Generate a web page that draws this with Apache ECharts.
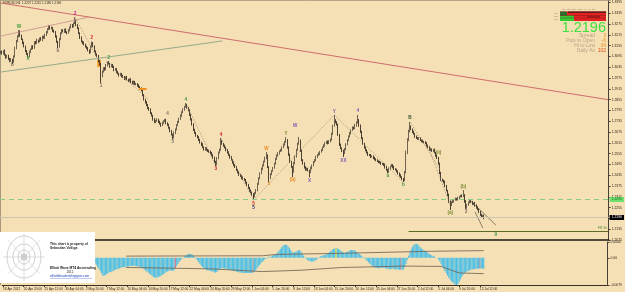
<!DOCTYPE html>
<html>
<head>
<meta charset="utf-8">
<script src="https://cdn.jsdelivr.net/npm/echarts@6/dist/echarts.min.js"></script>
<style>
html, body { margin: 0; padding: 0; background: #f5dfb4; }
#chart { width: 625px; height: 292px; }
</style>
</head>
<body>
<div id="chart"></div>
<script type="text/javascript">

// EURUSD H4, prices in pips (x 1e-4)
var firstOpen = 13115;
var closes = [
	13120,13112,13125,13103,13090,13098,13082,13070,13078,13064,
	13095,13140,13180,13205,13235,13210,13190,13170,13150,13125,
	13110,13095,13120,13135,13150,13142,13175,13168,13185,13178,
	13195,13188,13205,13198,13214,13230,13245,13262,13250,13255,
	13238,13231,13205,13175,13150,13190,13225,13240,13232,13245,
	13230,13225,13240,13255,13268,13262,13280,13295,13270,13250,
	13225,13200,13178,13170,13160,13150,13140,13130,13118,13150,
	13170,13150,13125,13105,13098,13070,13050,12985,13010,13030,
	13022,13045,13062,13055,13040,13048,13035,13020,13025,13008,
	13000,12990,12998,12985,12980,12972,12980,12965,12960,12968,
	12952,12945,12955,12940,12942,12935,12925,12915,12905,12880,
	12855,12840,12825,12810,12798,12780,12765,12745,12730,12738,
	12745,12730,12722,12712,12725,12735,12742,12725,12715,12698,
	12680,12660,12645,12670,12690,12712,12730,12750,12765,12785,
	12800,12815,12825,12810,12795,12772,12745,12715,12688,12670,
	12655,12645,12632,12615,12605,12590,12578,12585,12575,12570,
	12565,12558,12548,12530,12510,12495,12530,12560,12578,12625,
	12610,12598,12588,12575,12560,12548,12535,12520,12505,12492,
	12480,12465,12450,12438,12430,12420,12415,12408,12395,12380,
	12365,12350,12340,12330,12318,12335,12352,12385,12418,12445,
	12470,12490,12510,12530,12545,12480,12420,12440,12460,12475,
	12500,12525,12545,12555,12568,12575,12590,12605,12620,12630,
	12590,12548,12510,12480,12455,12500,12540,12575,12610,12628,
	12570,12520,12500,12480,12465,12470,12460,12452,12475,12490,
	12508,12520,12535,12548,12555,12565,12575,12590,12600,12614,
	12620,12612,12625,12632,12665,12710,12740,12730,12715,12660,
	12605,12585,12570,12558,12580,12605,12630,12650,12668,12685,
	12700,12695,12712,12728,12742,12710,12678,12640,12610,12588,
	12575,12560,12548,12545,12538,12540,12530,12525,12518,12512,
	12508,12505,12500,12498,12492,12480,12465,12452,12470,12485,
	12492,12480,12470,12465,12455,12445,12435,12425,12415,12408,
	12450,12560,12630,12680,12705,12690,12675,12665,12650,12642,
	12638,12640,12630,12625,12620,12618,12612,12600,12590,12575,
	12580,12570,12575,12560,12545,12530,12500,12450,12410,12405,
	12398,12375,12350,12325,12290,12270,12285,12290,12298,12305,
	12300,12308,12315,12320,12318,12325,12290,12255,12270,12285,
	12296,12285,12275,12280,12268,12255,12245,12232,12215,12205,
	12210,12196
];
// wick above the body / below the body, pips
var wickUp = [
	6,8,5,9,4,7,6,5,8,4, 6,9,7,8,7,5,6,4,7,5, 6,5,8,4,6,7,5,6,9,4, 5,7,6,5,8,6,7,8,5,6,
	4,6,5,7,6,8,5,7,6,4, 6,5,7,6,8,7,5,19,6,5, 7,4,6,5,8,6,5,7,4,6, 8,5,6,4,7,5,6,9,7,5,
	6,8,5,7,4,6,5,8,6,5, 7,4,6,5,8,6,4,7,5,6, 5,8,6,4,7,5,6,5,8,4, 6,5,7,6,4,8,5,6,7,5,
	6,4,8,5,7,6,5,7,4,6, 5,7,6,8,5,6,7,5,8,6, 7,5,11,6,4,7,5,6,8,5, 6,4,7,5,6,8,5,7,4,6,
	5,7,6,4,8,5,6,7,5,17, 6,5,7,4,6,8,5,6,4,7, 5,6,4,7,5,6,8,4,6,5, 7,5,6,4,5,7,6,8,5,6,
	7,5,6,8,19,6,5,7,4,6, 5,7,6,8,5,6,4,7,5,17, 6,5,7,4,6,8,5,7,6,20, 5,6,4,7,5,8,6,5,7,4,
	6,5,8,4,7,5,6,4,7,5, 6,8,5,7,6,5,30,6,5,7, 4,6,5,7,6,8,5,6,7,4, 6,5,8,6,28,5,7,4,6,5,
	7,4,6,5,8,6,5,7,4,6, 5,7,6,4,5,8,6,5,7,4, 6,5,8,4,6,7,5,6,4,5, 9,12,10,8,26,6,5,7,4,6,
	5,7,6,4,8,5,6,7,5,6, 7,4,6,8,5,6,7,5,4,6, 5,7,6,4,8,5,6,7,5,6, 4,7,5,6,8,28,5,7,6,4,
	6,5,7,4,6,5,8,6,4,6, 5,6
];
var wickDn = [
	5,7,6,4,8,5,6,7,5,12, 4,6,5,7,5,6,4,7,5,6, 7,8,5,6,4,7,5,6,4,7, 5,6,8,4,6,5,7,4,6,5,
	7,5,6,4,10,6,5,7,4,6, 5,7,4,6,5,8,6,5,7,4, 6,8,5,7,4,6,5,7,9,5, 6,4,7,5,6,8,5,38,6,5,
	7,4,6,5,8,6,4,7,5,6, 5,7,4,6,5,8,6,4,7,5, 6,5,7,4,6,8,5,7,4,6, 5,7,6,8,5,6,4,7,5,6,
	7,5,6,8,4,6,5,7,6,5, 6,4,10,5,7,6,4,5,8,6, 5,7,4,6,5,8,6,4,7,5, 6,5,7,4,8,5,6,7,4,6,
	5,6,8,4,7,8,5,6,4,7, 6,5,4,7,5,6,8,4,6,7, 5,6,4,7,5,8,6,4,7,5, 6,7,5,8,21,6,5,7,4,6,
	5,7,6,4,6,5,23,7,5,6, 4,6,5,7,6,4,8,5,6,5, 7,5,6,4,30,6,5,7,4,6, 5,7,6,8,5,6,4,28,5,7,
	6,4,7,5,6,8,5,6,4,7, 5,6,4,7,5,6,5,7,4,6, 8,5,6,22,5,7,4,6,5,7, 4,6,5,7,5,6,8,4,6,5,
	7,5,6,4,8,5,6,7,5,4, 6,5,7,4,6,8,5,7,4,6, 5,7,6,4,5,6,8,5,7,11, 6,5,8,6,7,5,6,4,7,5,
	6,8,5,7,4,6,5,7,6,4, 7,5,6,4,8,5,6,9,7,5, 8,6,5,7,9,28,6,5,7,4, 6,5,7,4,6,5,8,7,6,5,
	7,4,6,5,8,6,5,7,6,5, 6,5
];

// oscillator histogram (x 1e-4)
var osc = [
	8,10,9,7,5,3,2,0,-2,-3, -1,3,8,12,16,15,13,11,8,5, 2,0,1,3,5,6,8,9,10,11,
	12,12,13,14,15,17,19,21,21,20, 18,16,12,9,6,8,11,13,14,15, 15,16,18,20,22,24,25,24,21,17,
	12,7,2,-2,-6,-9,-12,-15,-18,-17, -14,-16,-20,-26,-32,-38,-45,-52,-53,-50,
	-47,-45,-42,-41,-40,-38,-36,-34,-33,-32, -30,-29,-28,-27,-27,-26,-25,-25,-24,-24,
	-23,-23,-24,-24,-25,-26,-27,-28,-30,-33, -37,-40,-43,-46,-49,-52,-55,-57,-58,-57,
	-55,-54,-52,-50,-47,-44,-41,-39,-38,-37, -37,-38,-36,-30,-24,-18,-12,-7,-3,0,
	3,6,9,11,12,11,9,6,2,-3, -8,-13,-18,-23,-27,-30,-33,-35,-36,-37,
	-38,-39,-40,-42,-43,-41,-37,-33,-31,-30, -30,-31,-32,-33,-34,-35,-36,-37,-38,-39,
	-40,-41,-42,-43,-43,-44,-44,-44,-44,-44, -44,-44,-44,-43,-40,-36,-31,-26,-21,-16,
	-12,-8,-5,-2,1,3,2,4,6,8, 10,12,16,21,26,31,35,37,38,37, 34,29,23,18,15,16,18,20,22,23,
	18,12,6,1,-3,-6,-9,-10,-11,-11, -10,-8,-5,-1,2,4,6,7,8,9, 11,14,17,20,23,26,28,29,28,26,
	23,20,17,15,15,16,18,20,22,23, 23,22,20,17,14,11,8,5,2,-1,
	-5,-9,-13,-17,-20,-23,-26,-28,-29,-30, -30,-30,-29,-29,-29,-30,-31,-32,-33,-33,
	-32,-32,-33,-33,-34,-34,-35,-35,-35,-34, -28,-18,-6,6,16,25,32,37,40,41,
	39,35,31,27,24,21,19,17,14,11, 9,7,5,3,1,0,-4,-10,-17,-24,
	-31,-38,-45,-52,-58,-63,-68,-72,-75,-78, -79,-76,-70,-63,-56,-50,-45,-42,-40,-38,
	-36,-35,-34,-33,-33,-32,-32,-31,-31,-31, -31,-32
];
var markedBars = [133, 193, 257, 307, 368];
var markedTones = ['pink', 'grey', 'lime', 'violet', 'steel'];
var upperBand = [[95,5],[200,6],[212,10],[260,13],[330,19],[371,21]];
var lowerBand = [[95,-28],[160,-32],[200,-40],[230,-36],[262,-28],[310,-24],[338,-25],[352,-44],[371,-46]];

var timeLabels = ['18 Apr 2012','20 Apr 20:00','25 Apr 12:00','30 Apr 04:00','2 May 20:00','7 May 12:00',
	'10 May 04:00','14 May 20:00','17 May 12:00','22 May 04:00','24 May 20:00','29 May 12:00',
	'1 Jun 04:00','5 Jun 20:00','8 Jun 12:00','13 Jun 04:00','15 Jun 20:00','20 Jun 12:00',
	'25 Jun 04:00','27 Jun 20:00','2 Jul 12:00','5 Jul 04:00','9 Jul 20:00','12 Jul 12:00'];

var bidPrice = 1.2196;
var supportPrice = 1.2290;
var fibLevel = [313, 466, 12125];

// wave counts: bar, price (pips), text, degree
var waveLabels = [
	[14,13258,'W','green'], [21,13080,'X','green'], [9,13050,'b','grey'], [44,13128,'b','grey'],
	[57,13330,'2','pink'], [70,13197,'2','red'], [77,12930,'1','grey'], [83,13085,'2','green'],
	[128,12775,'4','grey'], [132,12622,'5','grey'], [142,12852,'4','green'],
	[165,12470,'3','red'], [169,12658,'4','red'], [194,12278,'5','red'], [194,12252,'5','navy'],
	[204,12582,'W','orange'], [206,12385,'x','orange'], [219,12664,'Y','olive'], [224,12408,'(b)','orange'],
	[226,12712,'W','purple'], [237,12405,'X','purple'], [256,12790,'Y','purple'], [263,12515,'XX','purple'],
	[274,12792,'4','purple'], [297,12432,'a','green'], [309,12380,'b','green'], [314,12752,'B','dark'],
	[336,12560,'(ii)','olive'], [345,12224,'(a)','olive'], [355,12372,'(b)','olive'], [357,12232,'3','grey'],
	[380,12103,'9','green']
];
var trendLines = [
	[[0,13392],[466,12855],'red'],
	[[0,13208],[68,13314],'wedge'],
	[[0,13008],[170,13181],'sage'],
	[[360,12297],[380,12158],'diag'],
	[[364,12231],[370,12142],'diag'],
	[[106,12914],[112,12914],'orange']
];
var zigzag = [
	[[57,13314],[76,13060]], [[81,13064],[114,12853]], [[142,12836],[165,12492]],
	[[169,12642],[194,12297]], [[194,12297],[256,12770]], [[256,12770],[309,12397]],
	[[314,12731],[337,12470]], [[329,12575],[345,12269]]
];
var gapBox = [[74,13075],[77,13036]];

var SLOTS = 467;

var toneColor = {
	green: '#3d9a3d', grey: '#7d7266', pink: '#c0208c', red: '#d02424', navy: '#2a2a70',
	orange: '#e88a20', olive: '#7a8a30', purple: '#7a5ab8', dark: '#2d4d2d'
};
var barTone = { pink: '#d2709a', grey: '#8c98a8', lime: '#c8d830', violet: '#8c88b4', steel: '#7f95b8' };
var lineTone = {
	red: { color: '#cf6b6b', width: 1, type: 'solid' },
	wedge: { color: '#c99090', width: 0.8, type: 'solid' },
	sage: { color: '#95aa8c', width: 1, type: 'solid' },
	diag: { color: '#5a5043', width: 0.7, type: 'solid' },
	orange: { color: '#f0901e', width: 2, type: 'solid' },
	dots: { color: '#857a6a', width: 0.6, type: [1.5, 1.5] }
};

var cats = [];
for (var k = 0; k < SLOTS; k++) cats.push(String(k));

var candleData = [];
for (var i = 0; i < closes.length; i++) {
	var o = i === 0 ? firstOpen : closes[i - 1];
	var c = closes[i];
	candleData.push([o / 1e4, c / 1e4, (Math.min(o, c) - wickDn[i]) / 1e4, (Math.max(o, c) + wickUp[i]) / 1e4]);
}

var oscData = osc.map(function (v, j) {
	var m = markedBars.indexOf(j);
	if (m >= 0) return { value: v / 1e4, itemStyle: { color: barTone[markedTones[m]] } };
	return v / 1e4;
});

var lineItems = [];
trendLines.forEach(function (t) {
	lineItems.push([{ coord: [t[0][0], t[0][1] / 1e4], lineStyle: lineTone[t[2]] }, { coord: [t[1][0], t[1][1] / 1e4] }]);
});
zigzag.forEach(function (z) {
	lineItems.push([{ coord: [z[0][0], z[0][1] / 1e4], lineStyle: lineTone.dots }, { coord: [z[1][0], z[1][1] / 1e4] }]);
});
lineItems.push([{ coord: [fibLevel[0], fibLevel[2] / 1e4], lineStyle: { color: '#5d6b27', width: 1, type: 'solid' },
	label: { show: true, position: 'insideEndTop', formatter: 'FR 3x', color: '#4e8a28', fontSize: 3.4, distance: 1 } },
	{ coord: [fibLevel[1], fibLevel[2] / 1e4] }]);
lineItems.push({ yAxis: supportPrice, lineStyle: { color: '#86cc86', width: 1, type: [5, 4] },
	label: { show: true, position: 'end', formatter: supportPrice.toFixed(4), backgroundColor: '#6ee06e', color: '#1f5f1f', fontSize: 3.4, padding: [1, 2], distance: 1 } });
lineItems.push({ yAxis: bidPrice, lineStyle: { color: '#cdc3b0', width: 1, type: 'solid' },
	label: { show: true, position: 'end', formatter: bidPrice.toFixed(4), backgroundColor: '#000', color: '#fff', fontSize: 3.4, padding: [1, 2], distance: 1 } });

var pointItems = waveLabels.map(function (w) {
	return {
		coord: [w[0], w[1] / 1e4], symbol: 'circle', symbolSize: 1, itemStyle: { color: 'rgba(0,0,0,0)' },
		label: { show: true, position: 'inside', formatter: w[2], color: toneColor[w[3]], fontSize: 4.6, fontWeight: 'bold' }
	};
});

function showTime(idx) {
	return idx % 16 === 0 && idx / 16 < timeLabels.length;
}

var chart = echarts.init(document.getElementById('chart'));

var option = {
	animation: false,
	backgroundColor: '#f5dfb4',
	textStyle: { fontFamily: 'Liberation Sans, Arial, sans-serif' },
	grid: [
		{ left: 0, right: 14, top: 1, height: 239 },
		{ left: 0, right: 14, top: 242, height: 43 }
	],
	xAxis: [
		{
			type: 'category', gridIndex: 0, data: cats,
			axisLine: { show: true, onZero: false, lineStyle: { color: '#1e1a14', width: 1.6 } },
			axisTick: { show: false }, axisLabel: { show: false }, splitLine: { show: false }
		},
		{
			type: 'category', gridIndex: 1, data: cats,
			axisLine: { show: true, onZero: false, lineStyle: { color: '#3a3025', width: 1 } },
			axisTick: { show: true, length: 2, alignWithLabel: true, interval: showTime, lineStyle: { color: '#3a3025' } },
			axisLabel: {
				show: true, interval: showTime, align: 'left', fontSize: 3.2, color: '#2e261c', margin: 2.5,
				formatter: function (v, idx) { return timeLabels[idx / 16] || ''; }
			},
			splitLine: { show: false }
		}
	],
	yAxis: [
		{
			type: 'value', gridIndex: 0, position: 'right', min: 1.2075, max: 1.3403, interval: 0.006,
			axisLine: { show: true, lineStyle: { color: '#4a4035', width: 1 } },
			axisTick: { show: true, length: 2, lineStyle: { color: '#4a4035' } },
			axisLabel: { fontSize: 3.4, color: '#2e261c', margin: 3, showMaxLabel: false,
				formatter: function (v) { return v.toFixed(4); } },
			splitLine: { show: false }
		},
		{
			type: 'value', gridIndex: 1, position: 'right', min: -0.0079, max: 0.0046, interval: 0.0079,
			axisLine: { show: true, lineStyle: { color: '#4a4035', width: 1 } },
			axisTick: { show: true, length: 2, lineStyle: { color: '#4a4035' } },
			axisLabel: { fontSize: 3.4, color: '#2e261c', margin: 3, showMaxLabel: true, showMinLabel: true,
				formatter: function (v) { return Math.abs(v) < 1e-8 ? '0.00' : v.toFixed(4); } },
			splitLine: { show: false }
		}
	],
	series: [
		{
			type: 'candlestick', xAxisIndex: 0, yAxisIndex: 0, data: candleData, barWidth: 1.2,
			itemStyle: { color: '#e2dac8', color0: '#21180f', borderColor: '#4d4236', borderColor0: '#21180f', borderWidth: 0.8 },
			markLine: { silent: true, symbol: ['none', 'none'], label: { show: false }, data: lineItems },
			markPoint: { silent: true, data: pointItems },
			markArea: { silent: true, itemStyle: { color: '#f5a02e' },
				data: [[{ coord: [gapBox[0][0], gapBox[0][1] / 1e4] }, { coord: [gapBox[1][0], gapBox[1][1] / 1e4] }]] }
		},
		{
			type: 'bar', xAxisIndex: 1, yAxisIndex: 1, data: oscData, barCategoryGap: '15%',
			itemStyle: { color: '#48bfe8' }
		},
		{
			type: 'line', xAxisIndex: 1, yAxisIndex: 1, showSymbol: false, silent: true,
			data: upperBand.map(function (p) { return [p[0], p[1] / 1e4]; }),
			lineStyle: { color: '#6a5f50', width: 0.8 }
		},
		{
			type: 'line', xAxisIndex: 1, yAxisIndex: 1, showSymbol: false, silent: true,
			data: lowerBand.map(function (p) { return [p[0], p[1] / 1e4]; }),
			lineStyle: { color: '#6a5f50', width: 0.8 }
		}
	],
	graphic: [
		{ type: 'line', silent: true, shape: { x1: 0, y1: 0.5, x2: 611, y2: 0.5 }, style: { stroke: '#b5a584', lineWidth: 1 } },
		{ type: 'line', silent: true, shape: { x1: 0.5, y1: 0, x2: 0.5, y2: 285 }, style: { stroke: '#a8987a', lineWidth: 1 } },
		{ type: 'text', silent: true, x: 3, y: 3, style: { text: 'EURUSD,H4  1.2207 1.2210 1.2186 1.2196', fontSize: 3, fill: '#2e261c', verticalAlign: 'middle' } },

		// trend dashboard
		{ type: 'rect', silent: true, shape: { x: 560, y: 11.5, width: 46, height: 9.5 }, style: { fill: '#e52222' } },
		{ type: 'rect', silent: true, shape: { x: 560, y: 15.5, width: 14, height: 5.5 }, style: { fill: '#33cc33' } },
		{ type: 'rect', silent: true, shape: { x: 560, y: 11.5, width: 7, height: 4 }, style: { fill: '#2e6b2e' } },
		{ type: 'rect', silent: true, shape: { x: 568, y: 11.5, width: 38, height: 1.2 }, style: { fill: '#3a1a1a' } },
		{ type: 'rect', silent: true, shape: { x: 587, y: 15.8, width: 13, height: 2 }, style: { fill: '#a51a1a' } },
		{ type: 'line', silent: true, shape: { x1: 560, y1: 15.5, x2: 606, y2: 15.5 }, style: { stroke: '#6a1a1a', lineWidth: 0.4 } },
		{ type: 'line', silent: true, shape: { x1: 560, y1: 18, x2: 606, y2: 18 }, style: { stroke: '#6a1a1a', lineWidth: 0.4 } },
		{ type: 'text', silent: true, x: 562, y: 9.8, style: { text: 'M1  M5  M15  M30  H1  H4  D1', fontSize: 2.4, fill: '#8a7a60', verticalAlign: 'middle' } },
		{ type: 'text', silent: true, x: 558, y: 13.5, style: { text: 'TR', fontSize: 2.4, fill: '#8a7a60', align: 'right', verticalAlign: 'middle' } },
		{ type: 'text', silent: true, x: 558, y: 16.7, style: { text: 'SG', fontSize: 2.4, fill: '#8a7a60', align: 'right', verticalAlign: 'middle' } },
		{ type: 'text', silent: true, x: 558, y: 19.5, style: { text: 'PW', fontSize: 2.4, fill: '#8a7a60', align: 'right', verticalAlign: 'middle' } },
		{ type: 'text', silent: true, x: 606, y: 27.8, style: { text: '1.2196', fontSize: 14.5, fill: '#3fe03f', align: 'right', verticalAlign: 'middle' } },
		{ type: 'text', silent: true, x: 595, y: 36, style: { text: 'Spread', fontSize: 5, fill: '#b5a58a', align: 'right', verticalAlign: 'middle' } },
		{ type: 'text', silent: true, x: 595, y: 41, style: { text: 'Pips to Open', fontSize: 5, fill: '#b5a58a', align: 'right', verticalAlign: 'middle' } },
		{ type: 'text', silent: true, x: 595, y: 46, style: { text: 'Hi to Low', fontSize: 5, fill: '#b5a58a', align: 'right', verticalAlign: 'middle' } },
		{ type: 'text', silent: true, x: 595, y: 51, style: { text: 'Daily Av', fontSize: 5, fill: '#b5a58a', align: 'right', verticalAlign: 'middle' } },
		{ type: 'text', silent: true, x: 606, y: 36, style: { text: '3', fontSize: 5, fill: '#f0901a', align: 'right', verticalAlign: 'middle' } },
		{ type: 'text', silent: true, x: 606, y: 41, style: { text: '-6', fontSize: 5, fill: '#f0901a', align: 'right', verticalAlign: 'middle' } },
		{ type: 'text', silent: true, x: 606, y: 46, style: { text: '34', fontSize: 5, fill: '#f0901a', align: 'right', verticalAlign: 'middle' } },
		{ type: 'text', silent: true, x: 606, y: 51, style: { text: '102', fontSize: 5, fill: '#e0501a', align: 'right', verticalAlign: 'middle' } },

		// copyright box
		{ type: 'rect', silent: true, z: 100, shape: { x: 0, y: 232, width: 95, height: 51 }, style: { fill: '#ffffff' } },
		{ type: 'ellipse', silent: true, z: 101, shape: { cx: 24, cy: 257, rx: 17, ry: 21 }, style: { fill: 'none', stroke: '#b0b0b0', lineWidth: 0.6 } },
		{ type: 'ellipse', silent: true, z: 101, shape: { cx: 24, cy: 257, rx: 11, ry: 13 }, style: { fill: 'none', stroke: '#b0b0b0', lineWidth: 0.6 } },
		{ type: 'ellipse', silent: true, z: 101, shape: { cx: 24, cy: 257, rx: 6, ry: 7 }, style: { fill: 'none', stroke: '#b0b0b0', lineWidth: 0.6 } },
		{ type: 'circle', silent: true, z: 101, shape: { cx: 24, cy: 257, r: 3 }, style: { fill: 'none', stroke: '#a0a0a0', lineWidth: 0.6 } },
		{ type: 'circle', silent: true, z: 101, shape: { cx: 24, cy: 257, r: 1.5 }, style: { fill: 'none', stroke: '#a0a0a0', lineWidth: 0.6 } },
		{ type: 'line', silent: true, z: 101, shape: { x1: 3, y1: 257, x2: 45, y2: 257 }, style: { stroke: '#b8b8b8', lineWidth: 0.5 } },
		{ type: 'line', silent: true, z: 101, shape: { x1: 24, y1: 234, x2: 24, y2: 281 }, style: { stroke: '#b8b8b8', lineWidth: 0.5 } },
		{ type: 'line', silent: true, z: 101, shape: { x1: 8, y1: 240, x2: 40, y2: 274 }, style: { stroke: '#c4c4c4', lineWidth: 0.5 } },
		{ type: 'line', silent: true, z: 101, shape: { x1: 8, y1: 274, x2: 40, y2: 240 }, style: { stroke: '#c4c4c4', lineWidth: 0.5 } },
		{ type: 'text', silent: true, z: 101, x: 50, y: 244, style: { text: 'This chart is property of', fontSize: 3.3, fontWeight: 'bold', fill: '#222', verticalAlign: 'middle' } },
		{ type: 'text', silent: true, z: 101, x: 50, y: 247.6, style: { text: 'Sebastian Voltiga', fontSize: 3.3, fontWeight: 'bold', fill: '#222', verticalAlign: 'middle' } },
		{ type: 'text', silent: true, z: 101, x: 50, y: 268.5, style: { text: 'Elliott Wave MT4 Autotrading', fontSize: 3.3, fontWeight: 'bold', fill: '#222', verticalAlign: 'middle' } },
		{ type: 'text', silent: true, z: 101, x: 70, y: 272.5, style: { text: '2012', fontSize: 3, fill: '#222', align: 'center', verticalAlign: 'middle' } },
		{ type: 'text', silent: true, z: 101, x: 50, y: 276.5, style: { text: 'elliottfxtrader.blogspot.com', fontSize: 3.3, fill: '#2040c0', verticalAlign: 'middle' } },
		{ type: 'line', silent: true, z: 101, shape: { x1: 50, y1: 278.4, x2: 92, y2: 278.4 }, style: { stroke: '#2040c0', lineWidth: 0.3 } }
	]
};

chart.setOption(option);
</script>
</body>
</html>
